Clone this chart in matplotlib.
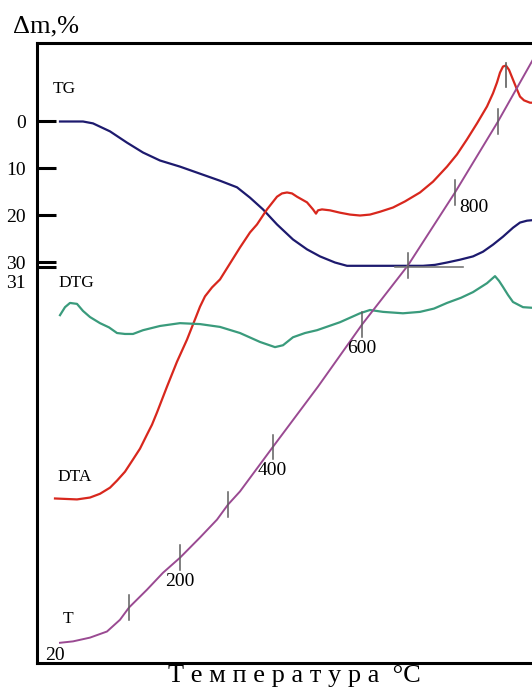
import numpy as np
import matplotlib.pyplot as plt

plt.rcParams['font.family'] = ['Liberation Serif', 'DejaVu Serif']

# горизонталь - условная шкала записи (0..500), вертикаль - в единицах Δm, %
tg_x = [23, 46, 56, 73, 90, 106, 123, 143, 163, 183, 200, 213, 226, 240, 256,
        270, 283, 298, 310, 386, 398, 410, 423, 436, 446, 456, 466, 476, 483,
        490, 500]
tg_y = [0.1, 0.1, 0.5, 2.2, 4.6, 6.7, 8.4, 9.7, 11.2, 12.7, 14.1, 16.3, 18.8,
        22.0, 25.2, 27.3, 28.8, 30.1, 30.8, 30.8, 30.6, 30.1, 29.5, 28.8, 27.8,
        26.3, 24.6, 22.7, 21.6, 21.2, 21.0]

dta_x = [18, 40, 53, 63, 73, 80, 88, 96, 103, 110, 115, 120, 130, 140, 150,
         158, 163, 168, 175, 183, 193, 203, 213, 220, 230, 240, 245, 250, 255,
         260, 270, 276, 279, 281, 285, 293, 303, 313, 323, 333, 343, 356, 368,
         383, 396, 410, 420, 430, 440, 450, 456, 460, 463, 466, 469, 472, 476,
         480, 483, 487, 493, 500]
dta_y = [80.3, 80.5, 80.1, 79.3, 78.0, 76.5, 74.6, 72.0, 69.7, 66.7, 64.6, 62.0,
         56.5, 51.2, 46.5, 42.2, 39.5, 37.3, 35.4, 33.7, 30.3, 26.9, 23.7, 22.0,
         18.8, 16.1, 15.4, 15.2, 15.4, 16.1, 17.3, 18.8, 19.7, 19.0, 18.8, 19.0,
         19.5, 19.9, 20.1, 19.9, 19.3, 18.4, 17.1, 15.2, 12.9, 9.7, 7.1, 3.9,
         0.5, -3.1, -5.9, -8.2, -10.3, -11.6, -11.8, -10.9, -8.8, -6.7, -5.2,
         -4.4, -3.9, -3.9]

dtg_x = [23, 28, 33, 40, 46, 53, 63, 72, 80, 88, 96, 106, 123, 143, 163, 183,
         203, 223, 238, 246, 256, 268, 280, 303, 323, 333, 346, 366, 383, 397,
         410, 424, 436, 450, 458, 462, 466, 471, 476, 486, 500]
dtg_y = [41.3, 39.6, 38.7, 38.9, 40.4, 41.7, 43.0, 43.9, 45.1, 45.3, 45.3, 44.5,
         43.6, 43.0, 43.2, 43.8, 45.1, 47.0, 48.1, 47.7, 46.0, 45.1, 44.5, 42.8,
         40.9, 40.2, 40.6, 40.9, 40.6, 39.9, 38.7, 37.6, 36.4, 34.5, 33.0, 34.0,
         35.3, 37.0, 38.5, 39.6, 39.8]

t_x = [23, 36, 53, 70, 83, 92, 110, 126, 143, 163, 180, 191, 203, 236, 281,
       325, 371, 418, 461, 500]
t_y = [111.0, 110.7, 109.9, 108.6, 106.1, 103.5, 99.7, 96.1, 92.9, 88.6, 84.8,
       81.6, 78.8, 69.3, 56.5, 43.3, 30.7, 15.2, 0.1, -14.6]

# отметки температуры на кривой T
t_mark_x = [92, 143, 191, 236, 325, 371, 418, 461]
t_mark_lbl = ['', '200', '', '400', '600', '', '800', '']

tg_ticks = [0, 10, 20, 30]
tg_final = 31

c_tg = '#1d1a6e'
c_dta = '#d8271d'
c_dtg = '#3a9b7c'
c_t = '#9a4a92'
c_mark = '#5e5e5e'

fig = plt.figure(figsize=(5.32, 6.91), dpi=100)
ax = fig.add_axes([37 / 532, 28 / 691, 500 / 532, 620 / 691])
ax.set_xlim(0, 500)
ax.set_ylim(115.3, -16.6)

ax.plot(tg_x, tg_y, color=c_tg, lw=1.6)
ax.plot(dta_x, dta_y, color=c_dta, lw=1.6)
ax.plot(dtg_x, dtg_y, color=c_dtg, lw=1.6)
ax.plot(t_x, t_y, color=c_t, lw=1.4)

# остаточная масса и отметка пика
ax.plot([358, 426], [tg_final, tg_final], color='#777777', lw=1.2)
ax.plot([469, 469], [-12.3, -7.2], color=c_mark, lw=1.2)

for mx, lbl in zip(t_mark_x, t_mark_lbl):
    my = np.interp(mx, t_x, t_y)
    ax.plot([mx, mx], [my - 2.6, my + 2.6], color=c_mark, lw=1.1)
    if lbl:
        off = (3, -11) if lbl == '800' else (-11, -17)
        ax.annotate(lbl, (mx, my), xytext=off, textcoords='offset points',
                    ha='left', va='center', fontsize=14)

ax.text(16, -6.8, 'TG', fontsize=12.5, va='center')
ax.text(21, 34.5, 'DTG', fontsize=12.5, va='center')
ax.text(20, 75.7, 'DTA', fontsize=12.5, va='center')
ax.text(26, 106, 'T', fontsize=12.5, va='center')
ax.text(8, 113.6, '20', fontsize=14, va='center')

ax.set_yticks(tg_ticks + [tg_final])
ax.set_yticklabels([str(v) for v in tg_ticks] + [''])
ax.text(-0.022, tg_final + 3.5, str(tg_final), transform=ax.get_yaxis_transform(),
        ha='right', va='center', fontsize=14)
ax.tick_params(axis='y', direction='in', length=14, width=2.2, pad=8,
               labelsize=14)
ax.set_xticks([])

for s in ['top', 'left', 'bottom']:
    ax.spines[s].set_linewidth(2.2)
ax.spines['right'].set_visible(False)

fig.text(13 / 532, 0.962, 'Δm,%', fontsize=19, ha='left', va='center')
fig.text(294 / 532, 0.021, 'Т е м п е р а т у р а  °C', fontsize=19,
         ha='center', va='center')

fig.savefig('out.png', dpi=100)
